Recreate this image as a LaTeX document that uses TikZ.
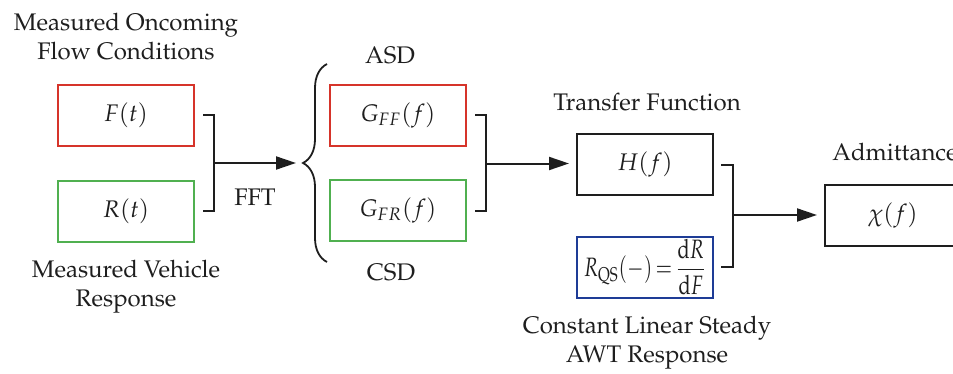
\documentclass[tikz,border=0pt]{standalone}
\usepackage[T1]{fontenc}
\usepackage{mathpazo}
\usepackage{graphicx}
\usetikzlibrary{arrows.meta,decorations.pathreplacing}
\definecolor{boxred}{RGB}{214,52,42}
\definecolor{boxgreen}{RGB}{80,176,80}
\definecolor{boxblue}{RGB}{30,60,150}
\definecolor{ink}{RGB}{30,30,30}
\tikzset{
  blk/.style={draw=#1,line width=1pt,minimum width=68pt,minimum height=30.5pt,inner sep=1pt,text=ink,font=\fontsize{12}{15.5}\selectfont},
  lbl/.style={align=center,text=ink,font=\fontsize{12}{15.5}\selectfont},
  brk/.style={draw=ink,line width=1pt},
  arr/.style={draw=ink,line width=1pt,-{Triangle[length=10pt,width=6.5pt]},shorten >=3.5pt},
}
\begin{document}
\begin{tikzpicture}[x=0.5pt,y=-0.5pt]
\path[use as bounding box,clip] (0,0) rectangle (953,374);
% boxes
\node[blk=boxred]   (F)   at (126,115.5) {$F(t)$};
\node[blk=boxgreen] (R)   at (126,211)   {$R(t)$};
\node[blk=boxred]   (GFF) at (398,115.5) {$G_{FF}(f)$};
\node[blk=boxgreen] (GFR) at (398,210.5) {$G_{FR}(f)$};
\node[blk=ink]      (H)   at (645,164.5) {$H(f)$};
\node[blk=boxblue,inner sep=0.5pt]  (RQS) at (645,267)   {\resizebox*{61pt}{28pt}{$\displaystyle R_{\mathrm{QS}}(-)\,{=}\,\frac{\mathrm{d}R}{\mathrm{d}F}$}};
\node[blk=ink]      (chi) at (893,215)   {$\chi(f)$};
% labels
\node[lbl] (l1) at (126,37)  {Measured Oncoming\\[-1pt]Flow Conditions};
\node[lbl] (l2) at (126,287) {Measured Vehicle\\[-1pt]Response};
\node[lbl] (l3) at (255,197) {FFT};
\node[lbl] (l4) at (390,55)  {ASD};
\node[lbl] (l5) at (391,272) {CSD};
\node[lbl] (l6) at (647,102) {Transfer Function};
\node[lbl] (l7) at (647,343) {Constant Linear Steady\\[-1pt]AWT Response};
\node[lbl] (l8) at (895,152) {Admittance};
% brace
\coordinate (bt) at (303,163);
\draw[ink,line width=0.9pt,decorate,decoration={brace,amplitude=12pt,aspect=0.5}] (327,262) -- (327,64);
% bracket 1
\coordinate (b1) at (214,163);
\draw[brk] ([xshift=4pt]F.east) -| (b1) |- ([xshift=4pt]R.east);
\draw[arr] (b1) -- (bt);
% bracket 2
\coordinate (b2) at (486,163.5);
\draw[brk] ([xshift=4pt]GFF.east) -| (b2) |- ([xshift=4pt]GFR.east);
\draw[arr] (b2) -- (H.west |- b2);
% bracket 3
\coordinate (b3) at (733,215);
\draw[brk] ([xshift=3.5pt]H.east) -| (b3) |- ([xshift=3.5pt]RQS.east);
\draw[arr] (b3) -- (chi.west |- b3);
\end{tikzpicture}
\end{document}
